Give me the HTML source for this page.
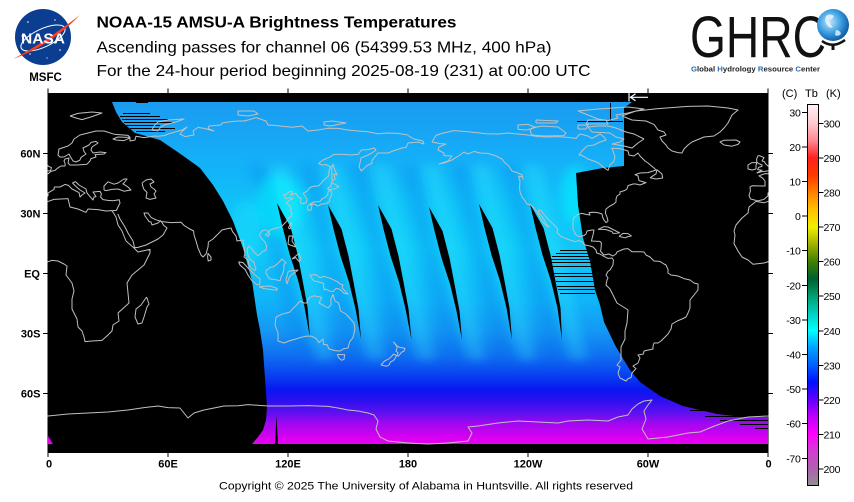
<!DOCTYPE html>
<html><head><meta charset="utf-8"><style>
html,body{margin:0;padding:0;background:#fff;}
svg{display:block;}
</style></head><body>
<svg width="854" height="502" viewBox="0 0 854 502" xmlns="http://www.w3.org/2000/svg" xmlns:xlink="http://www.w3.org/1999/xlink" font-family="'Liberation Sans', Arial, sans-serif">
<defs>
<linearGradient id="sg" gradientUnits="userSpaceOnUse" x1="0" y1="102" x2="0" y2="444">
<stop offset="0" stop-color="#1a9cf0"/>
<stop offset="0.08" stop-color="#18a4f4"/>
<stop offset="0.17" stop-color="#14b0f8"/>
<stop offset="0.29" stop-color="#10c0f8"/>
<stop offset="0.43" stop-color="#10c8f8"/>
<stop offset="0.58" stop-color="#10b4f8"/>
<stop offset="0.67" stop-color="#1498f4"/>
<stop offset="0.74" stop-color="#1070f0"/>
<stop offset="0.80" stop-color="#0840f0"/>
<stop offset="0.84" stop-color="#0818f0"/>
<stop offset="0.87" stop-color="#2810f0"/>
<stop offset="0.91" stop-color="#6010f0"/>
<stop offset="0.94" stop-color="#a008f0"/>
<stop offset="0.98" stop-color="#d800f0"/>
<stop offset="1" stop-color="#e800f0"/>
</linearGradient>
<linearGradient id="cb" x1="0" y1="0" x2="0" y2="1">
<stop offset="0" stop-color="#fff2f4"/>
<stop offset="0.05" stop-color="#ffc8d0"/>
<stop offset="0.095" stop-color="#ff8890"/>
<stop offset="0.14" stop-color="#ff2020"/>
<stop offset="0.186" stop-color="#ff3a00"/>
<stop offset="0.231" stop-color="#ff8000"/>
<stop offset="0.276" stop-color="#ffc000"/>
<stop offset="0.322" stop-color="#f0f000"/>
<stop offset="0.367" stop-color="#a0b000"/>
<stop offset="0.412" stop-color="#408000"/>
<stop offset="0.457" stop-color="#006030"/>
<stop offset="0.503" stop-color="#00a070"/>
<stop offset="0.548" stop-color="#00d0c0"/>
<stop offset="0.593" stop-color="#00ffff"/>
<stop offset="0.639" stop-color="#00a0ff"/>
<stop offset="0.684" stop-color="#0060ff"/>
<stop offset="0.729" stop-color="#0010ff"/>
<stop offset="0.774" stop-color="#6000ff"/>
<stop offset="0.82" stop-color="#c000ff"/>
<stop offset="0.865" stop-color="#ff00ff"/>
<stop offset="0.91" stop-color="#d040d0"/>
<stop offset="0.955" stop-color="#b060b0"/>
<stop offset="1" stop-color="#909090"/>
</linearGradient>
<radialGradient id="gl" cx="0.4" cy="0.4" r="0.6">
<stop offset="0" stop-color="#bfe6ff"/>
<stop offset="0.6" stop-color="#3a9ee0"/>
<stop offset="1" stop-color="#1560a8"/>
</radialGradient>
<clipPath id="mapc"><rect x="47.5" y="93" width="721" height="360"/></clipPath>
<clipPath id="swc"><path d="M112,102 L632,102 L624,108 L624,166 L603,168 L576,173 L578,205 L583,238 L590,261 L595,290 L600,305 L604,322 L615,345 L622,357 L630,370 L640,382 L660,396 L683,406 L717,414 L743,417 L768,416 L768,444 L252,444 L258,437 L263,430 L266,420 L267,407 L263,350 L260,330 L257,315 L252,281 L243,248 L233,221 L223,201 L213,185 L200,168 L182,155 L160,140 L135,133 L122,122 L116,112 Z"/></clipPath>
<filter id="bl" x="-30%" y="-30%" width="160%" height="160%"><feGaussianBlur stdDeviation="5"/></filter>
<g id="coast" fill="none" stroke="#c0c0c0" stroke-width="0.5" stroke-linejoin="round">
<polyline points="-17,21 -16,24 -13,27.5 -10,30 -9.5,33 -6,35.8 -2,35.1 3,36.8 10,37.2 11,33 15,32 19,30.3 20,32 25,31.7 29,31 32,31.2 34,28 35,24 37,21 39,16 43,12.5 45,10.5 51,11.8 51,10 48,4 42,-1 39.5,-5 40,-10 40.5,-15 35,-20 35.5,-24 32.5,-26 32,-29 30,-31 27,-33.7 22,-34 18.5,-34.3 18,-32 17,-29 15,-27 14.5,-23 12,-18 12,-13 13,-9 12,-5 9,-1 9.5,3.5 8,4.5 5,6 2,6.3 -2,5 -7.5,4.4 -10,6.5 -13,8 -15,11 -17,14.7 -16.5,19 -17,21"/>
<polyline points="49.3,-12 50.5,-15.5 49.5,-17 48,-22 47,-25 45,-25.5 43.5,-22 44,-18 46.5,-16 49.3,-12"/>
<polyline points="34.9,29.5 36,27 38.5,23 40,20 42.5,16 43.3,12.7 45,12.8 49,14 52,15.5 55,17 57.5,19 59.5,22.5 58,23.7 56.3,26.2 55,25 52,24 51.5,25.5 50.5,25.7 50,26.5 48.5,28.5 48,30 50,30 51.5,27.8 54,26.6 57,25.7 61.5,25.2 66.5,25.4 68,23.8 70,22.5 72.8,21 73,19 74,16 75,12.5 76.5,9 77.5,8 79,9.5 80,13 80.2,15.5 82.5,17 85,19.5 87,21.5 89,22 91.5,22.5 92.3,20.6 94,18.5 94.5,16 97.5,16.5 98,13 98.5,10 98,8 100,6.5 100.5,4 101.5,2.5 103.5,1.3 104,2 103.3,4 103,5.5 101,6.8 100,9 99.5,12 100.5,13.5 102,12 103,10.5 105,8.6 106,9.5 107,10.5 109,11.5 109.3,13.5 108.5,15.5 106.5,17.5 105.7,19 107,21 108.5,21.6 110,21 110.5,20.3 111,21.5 113.5,22.3 116.5,23 119,25.5 120,27 121.7,28.5 122,30 121,31 121.8,32 120.5,34 119.2,35 120.5,36.3 122.5,37.2 121,37.7 119,37.2 118,38.5 117.6,39 119,39.4 121,40.8 122.3,40.5 121.2,39 122,39.2 124,39.8 125.3,37.7 126.5,37.5 126.3,35 127.5,34.7 129.3,35.2 129.5,36.8 128.5,38.5 127.5,39.8 129.7,41 130.7,42.5 132,43.2 135.5,43.7 138,46.5 140.3,48.5 140.5,51 141.3,53 139,54.2 137,54 135.3,54.8 137.5,56.5 140.5,57.8 143,59.3 148,59.3 151,59 155,59.3 156.7,61.5 160,61.7 163,62.5 164,61.5 162,60 160,59 156.5,57.5 156,55 155.5,53 156.7,51 158.5,52.8 160,54 162,54.8 162,56.2 163.2,57.8 165,60 170,60 172.5,61 177,62.5 179,62.8 180,65"/>
<polyline points="-180,65 -175,65.5 -172,64.5 -172.5,66 -177,67 -180,68.8"/>
<polyline points="180,69 175,69.8 170,70 165,69.6 160,70.6 155,71 150,71.5 145,72.3 140,72.4 135,71.5 130,71 127,73.5 122,72.9 115,73.6 113,73.8 110,74 109,76 104,77.7 100,76.5 98,76 95,76 90,75.5 87,75 86.5,74 80.5,73.5 80,72.3 83,71 78,72.3 75,72.8 72.5,71 73,69 68.5,68.2 66,69.5 67,70.8 68.5,72 69.5,73 67,71.5 61,69.8 58,68.7 55,68.4 53.5,68.5 48,67.7 44,68.4 43.5,66.5 41,66 41,67.5 38,66.2 34,66.5 32.5,67 35,68 41,67.8 40,68.8 33,69.4 28,71 24,71 20,70 16,69 13,67 12,65 10,63.5 5.5,62 5,59 6,58 8,58 10.5,59.5 11,58.5 12.5,56 14,55.5 16,56.5 16.5,57.8 19,59.5 18,60.8 17.5,62.5 20.5,64 21.5,65.3 24,65.8 25,65 22,63 21.5,61.5 22.5,60 26,60.5 29,60.2 28,59.5 23.5,59.2 24,58 21.5,57.2 21,56 19.5,54.4 14.5,54 11,54 10,55 10.5,57.5 8.5,57 8,56 8.6,54.5 8.5,53.5 6.5,53.5 4.5,52.2 3.5,51.3 1.6,50.9 0,49.6 -1.5,49.7 -4.5,48.6 -2.5,47.3 -1.5,46 -1.5,43.5 -8,43.6 -9,43 -8.8,41 -9.5,38.8 -8.7,37 -6,36.3 -5.4,36 -2,36.8 0,38.6 0,40 3,41.8 3.2,43 6,43 8.5,44.3 10.2,43.8 12,42 15.5,40.2 16,38 17,39 18.5,40 16,41.5 13.5,43.7 12.3,45 13.7,45.7 15.5,44 19,42 19.5,40 21,38.2 22.5,36.5 23,38 24,38.2 22.5,40.5 26,40.8 26.7,39.5 26.3,38 27.5,36.7 30,36.3 32.5,36.1 35.6,36.6 36,35 35,33 34.2,31.3 32.3,31.2"/>
<polyline points="28,41.5 28,43.5 30,45.6 33,44.4 35,45 38,47 39.5,47 38,45 37.5,44.6 40,43 41.5,41.5 38,40.9 35,42 32,41.8 29,41.2 28,41.5"/>
<polyline points="47,45 49,46.5 51.5,47 53,45.5 51,44.5 51.5,43 53,42 54,41 53,39.5 54,37.5 51,36.8 49,37.5 49.5,40.3 48,41.8 47.5,43 47,45"/>
<polyline points="-5.7,50 -3,50.7 1.3,51.2 1.7,52.7 0,53.5 -1.3,54.7 -1.8,55.7 -3,56 -2,57.7 -4,58.6 -5,58.6 -5.7,57 -5.6,55.4 -4.8,54.8 -3,54 -3,53.3 -4.7,52.8 -5.2,51.7 -3,51.4 -5.7,50"/>
<polyline points="-6,52 -6,53.9 -5.5,55.2 -8,55.2 -10,54 -10,52 -8,51.5 -6,52"/>
<polyline points="-22,64 -24,65.5 -22,66.4 -16,66.5 -14,65.5 -15,64.3 -18,63.4 -22,64"/>
<polyline points="11,78.5 15,79.8 22,80.5 27,80 22,78.2 17,76.7 14,77.5 11,78.5"/>
<polyline points="52,71.5 53,73.5 55,75.5 60,76.5 68,77 64,75.5 58,74 56,72.5 55,71 52,71.5"/>
<polyline points="95,79 100,78.5 105,79.5 103,81 95,81 95,79"/>
<polyline points="138,74 141,73.5 149,75 142,76 138,75.5 138,74"/>
<polyline points="79.8,8 80,9.8 81.5,8 81.5,6.5 80.1,6 79.8,8"/>
<polyline points="108.7,19 110,20.1 111,19.6 110,18.2 108.7,19"/>
<polyline points="130,31.3 131.5,31.5 132,33.8 131,34 133,34.5 135,33.5 136.8,34.5 139,34.7 140.8,35.7 140.8,37 141.5,38.3 142,39.8 141.4,41.4 140,40.5 139.8,39 138.5,37.8 137,37 136,35.8 133,35.5 131,34.5 129.7,33.3 130,31.3"/>
<polyline points="140,41.5 141.2,41.8 143.3,42 145.5,43.3 144,44 141.8,45.4 141.5,43.3 140,42.5 140,41.5"/>
<polyline points="142,46 143.5,46.8 143,49.5 144.5,49 143,52.5 142.5,54.3 142,53.5 141.8,51 142,49 142,46"/>
<polyline points="120.2,22.5 121.5,25.2 121.9,24.7 121,22 120.2,22.5"/>
<polyline points="120,14.5 120.5,18.5 122.3,18.5 122,16 124,13 121.5,13.8 120,14.5"/>
<polyline points="122,7 125.5,9.8 126.5,7 125.5,5.8 123.8,7.7 122,7"/>
<polyline points="109,1.5 110,1.7 111,2.8 113,3.2 115.5,5.3 117,7 119,5 118,4.3 118,2 117.5,0 116.5,-2 116,-3.9 114.5,-3.5 113,-3.2 111,-3 110,-2 109,0 109,1.5"/>
<polyline points="95.3,5.6 97.5,5.2 100,2.5 103.5,-1 106,-3 105.8,-5.8 104.5,-5.8 102,-4 100,-1 98.6,1.7 96,4 95.3,5.6"/>
<polyline points="105.5,-6.8 108,-6.6 111,-6.5 114.5,-7.7 114.5,-8.6 111,-8.2 108,-7.8 105.5,-6.8"/>
<polyline points="119.5,-5.5 120.5,-2.5 121.5,-1 124.5,1 125,1.5 121,1 120,0.5 119.7,-0.8 119,-3.5 119.5,-5.5"/>
<polyline points="131,-1 134,-0.8 136,-2.3 138,-1.7 141,-2.6 145,-4.5 146,-5.5 147.5,-6 147,-7.5 150,-10.5 148,-10.2 146,-8.2 144,-7.7 142.5,-9.3 141,-9.1 139,-8.1 138,-8.3 137.7,-5.2 135,-4.3 133,-4 132,-2.8 131,-1"/>
<polyline points="114,-22 113.5,-26 115,-30 115,-34 118,-35 121,-33.8 124,-33 126,-32.3 129,-31.6 131.5,-31.5 134,-32.7 135.5,-34.8 137.5,-33 137.8,-35.8 139.5,-35.8 140.5,-38 143.5,-38.8 146,-39 148,-37.8 150,-37.5 150.8,-34.5 152.5,-32.3 153.5,-28 153,-25 150.8,-22.5 149,-20.5 146.3,-19 145.3,-15 143.5,-14 142.5,-10.7 141.5,-13 141.5,-16 140,-17.5 137,-15.8 135.5,-15 136.8,-12.2 133,-11.4 131,-12.1 130,-13.2 129.5,-15 128,-15 126,-14 124,-16.3 122.2,-18 121,-19.5 117,-20.6 114,-22"/>
<polyline points="144.6,-40.7 148.3,-40.9 148,-43.2 146.8,-43.6 145.3,-42.3 144.6,-40.7"/>
<polyline points="172.7,-34.4 174.5,-36.5 175.9,-37.2 178.5,-37.7 177.9,-39.2 176.9,-39.5 175.2,-41.6 174.6,-41.2 175,-39.8 174,-39.2 174.6,-37 172.7,-34.4"/>
<polyline points="172.7,-40.5 174.3,-41.3 173.3,-43 172.7,-43.8 171.2,-44.5 170.6,-45.9 169.3,-46.6 166.5,-46 168.3,-44 170.5,-42.9 172,-41.5 172.7,-40.5"/>
<polyline points="-168,65.5 -166,68.8 -163,69.8 -157,71.2 -152,70.8 -145,70.1 -141,69.6 -135,69.5 -130,70 -125,69.5 -120,69 -115,68.2 -110,68 -105,68.2 -100,67.8 -96,67.3 -95,68.5 -94,69.5 -90,68.5 -88,67.3 -84,69.5 -82,68 -81,66.5 -84,65.5 -87,64 -90.5,63.5 -93,61 -94.5,59 -93,58.8 -90,57 -85,55.2 -82.3,52.9 -80,51.3 -79,54 -77,56 -76.5,58 -78,62.4 -74,62.2 -70,61 -69.5,59 -67,58.5 -65,60 -64,58.5 -61.5,56 -60,55 -57,52.5 -56,51.5 -60,50.2 -64,50 -66.5,49.2 -65,48.5 -64.5,46.2 -61,45.2 -64,44 -66,44.5 -67.5,44.5 -70,43.7 -70.5,42 -71.5,41.3 -74,40.5 -74,39.5 -75.5,38.5 -76,37 -76,35.5 -77,34.6 -79,33.5 -81,32 -81.3,30 -80.5,28 -80,26 -81,25.2 -82,26.5 -82.7,28 -83,29.5 -84.5,30 -86,30.3 -88,30.4 -89.5,30.2 -89,29 -91,29.3 -93,29.8 -95,29.3 -97,27.8 -97.5,26 -97.5,22 -96,19 -94.5,18.2 -92,18.7 -91,19.5 -90.5,21 -88,21.5 -87,21.5 -87.5,19 -88.3,16 -86,15.9 -84,15.8 -83.3,15 -83.5,12 -83.8,11 -82,9 -79.5,9.5 -77.5,8.5 -76,9.5 -75.5,10.5 -74,11.2 -72,12 -70,12.2 -68,10.6 -64,10.6 -62,10.5 -61,9 -59,8 -57,6 -54,5.8 -52,4.5 -51,4 -50,1.8 -50,0 -48.5,-1 -45,-1.5 -42,-2.8 -39,-3.5 -37,-5 -35,-5.5 -35,-8.5 -37,-11 -39,-13.5 -39,-17.5 -40,-20 -41,-22 -43,-23 -45,-23.8 -48,-25.5 -48.5,-28 -50,-30.5 -52,-32.5 -53.5,-34 -55,-35 -57,-35 -57.5,-36.5 -57.5,-38 -62,-39 -62.3,-40.5 -65,-41 -64,-42.5 -65,-45 -67.5,-46.5 -66,-47.8 -68,-50 -68.5,-52.3 -70,-52.8 -71,-54 -74,-52.5 -75,-50 -74,-47 -75.5,-46 -73.5,-43.5 -73.5,-41 -73.5,-37 -71.5,-33 -71.5,-29 -70.5,-25 -70,-18.5 -71.5,-17.5 -75.5,-15 -77,-12 -79,-8 -81,-6 -80.5,-3.5 -80,-2.5 -81,-1 -80,0.8 -79,1.5 -77.5,4 -77.3,6.5 -78,7.5 -80,7.3 -82,8.3 -84,9.5 -85.7,10 -86,11.5 -87.5,13 -89,13.5 -91.5,14 -93,15.6 -94.5,16.2 -96.5,15.7 -98.5,16.3 -101,17.2 -103.5,18.3 -105.5,20.2 -105.2,21.8 -106,23 -108,25 -109.5,26.5 -111,28 -112.5,29.9 -113.5,31.3 -114.8,31.5 -114.5,30 -112.5,27.5 -110.5,24 -109.5,23 -110,23 -112,24.8 -114,27.5 -115,29.8 -117,32.5 -118.5,34 -120.5,34.5 -122,36.8 -123,38 -124,40.5 -124.2,43 -124,46 -124.7,48.4 -123,48.2 -122.5,47 -123,49 -125,50 -128,51 -130,54 -131.5,55 -133,57 -136,58.5 -140,59.8 -144,60 -147,60.8 -150,59.5 -152,60.5 -154,59 -156,57.8 -158,56.5 -162,55 -164.5,54.5 -160,56 -158,58.5 -162,58.7 -162,60 -165,61.5 -164.5,63 -161,64.5 -164,64.7 -168,65.5"/>
<polyline points="-59,47.6 -56,49.6 -55.5,51.6 -53,49.5 -52.7,47.5 -56,47 -59,47.6"/>
<polyline points="-85,21.8 -82,23.2 -80,23 -77,21.5 -74.2,20.1 -75.5,19.9 -77.5,19.8 -78,20.7 -81,21.7 -84,21.9 -85,21.8"/>
<polyline points="-74.5,18.3 -72.5,19.8 -70,19.7 -68.3,18.5 -70,18.2 -71.5,17.6 -74.5,18.3"/>
<polyline points="-73,78.5 -66,81 -55,82.2 -40,83.3 -30,83.5 -20,82.5 -15,81.5 -18,79 -19,77 -20,75 -22,72.5 -24,70.5 -27,68.5 -32,68 -38,65.5 -40,64 -42,62 -43,60 -45,60.2 -48,61 -50,62.5 -51,64 -53,66 -54,68 -51,69 -52,70.5 -55,71.5 -57,74.3 -61,76 -68,76.5 -73,78.5"/>
<polyline points="-62,67 -65,65 -68,62.5 -72,63.5 -78,64.5 -74,65.5 -72,67 -76,68 -79,70 -85,70.3 -88,70.5 -90,73 -85,73.5 -80,73.5 -76,72.5 -71,70.5 -67,69.5 -62,67"/>
<polyline points="-118,69 -112,68.5 -102,68.7 -101,70 -105,73 -113,73.5 -118,72.5 -119,71 -118,69"/>
<polyline points="-80,76.2 -75,77.5 -76,79 -70,80 -62,82 -70,83 -85,82 -95,81 -90,79 -85,77 -80,76.2"/>
<polyline points="-125,71.8 -121,71.5 -116,72.8 -120,74.3 -125,74 -125,71.8"/>
<polyline points="-95,72 -91,72 -90,74 -95,74 -95,72"/>
<polyline points="-91,74.5 -80,74.5 -81,76.5 -90,76.5 -91,74.5"/>
<polyline points="-116,75 -106,75 -105,76 -116,76.5 -116,75"/>
<polyline points="-180,-85 -170,-85.5 -160,-85 -150,-84 -148,-80 -150,-77 -145,-76.5 -135,-75 -125,-74 -115,-74.5 -105,-75 -100,-74 -90,-73.5 -80,-74 -75,-72 -70,-71 -68,-68 -65,-65.5 -62,-64 -58,-63.5 -60,-66 -62,-69 -61,-73 -63,-78 -60,-83 -50,-82 -40,-80 -34,-79.5 -28,-77 -20,-74 -10,-72 0,-71.5 10,-70.5 20,-70 30,-69.5 40,-68.5 48,-67.3 55,-66.5 60,-67.3 66,-67.5 68,-70 70,-72.5 73,-70 78,-68.5 88,-66.5 95,-66.4 100,-65.8 110,-66.5 120,-66.5 130,-66.3 140,-66.7 145,-67.5 150,-68.5 155,-69 160,-70 163,-71 165,-74 164,-78 166,-82 170,-84 180,-85"/>
</g>
</defs>

<rect width="854" height="502" fill="#fff"/>

<!-- NASA logo -->
<circle cx="43" cy="37" r="28" fill="#0b3d91"/>
<g fill="#fff">
<circle cx="28" cy="22" r="0.8"/><circle cx="55" cy="20" r="0.7"/><circle cx="60" cy="50" r="0.8"/><circle cx="30" cy="54" r="0.7"/><circle cx="22" cy="36" r="0.6"/><circle cx="47" cy="58" r="0.6"/>
</g>
<ellipse cx="43" cy="38" rx="24" ry="9" fill="none" stroke="#fff" stroke-width="1" transform="rotate(-25 43 38)"/>
<path d="M13,59 Q42,44 80,15 Q50,46 13,59 Z" fill="#fc3d21"/>
<text x="43" y="43.5" text-anchor="middle" font-size="15" font-weight="bold" fill="#fff" textLength="44" lengthAdjust="spacingAndGlyphs">NASA</text>
<text x="45.5" y="81" text-anchor="middle" font-size="11.5" font-weight="bold" fill="#000">MSFC</text>

<!-- Title -->
<text x="96.5" y="27.3" font-size="16" font-weight="bold" fill="#000" textLength="360" lengthAdjust="spacingAndGlyphs">NOAA-15 AMSU-A Brightness Temperatures</text>
<text x="96.5" y="52.3" font-size="16" fill="#000" textLength="455" lengthAdjust="spacingAndGlyphs">Ascending passes for channel 06 (54399.53 MHz, 400 hPa)</text>
<text x="96.5" y="76" font-size="16" fill="#000" textLength="494" lengthAdjust="spacingAndGlyphs">For the 24-hour period beginning 2025-08-19 (231) at 00:00 UTC</text>

<!-- GHRC logo -->
<text x="690" y="57" font-size="58" fill="#111" textLength="136" lengthAdjust="spacingAndGlyphs">GHRC</text>
<circle cx="833" cy="25" r="16" fill="url(#gl)"/>
<path d="M826,16 q4,-3 8,0 q-2,4 -5,4 q1,5 4,7 q-3,2 -6,-2 q-3,-4 -1,-9z" fill="#e8f4ff" opacity="0.85"/>
<path d="M836,30 q4,0 5,4 q-3,3 -6,1z" fill="#e8f4ff" opacity="0.8"/>
<path d="M822,41 Q833,49 845,40" fill="none" stroke="#111" stroke-width="2.5"/>
<rect x="831.5" y="44" width="3" height="6" fill="#111"/>
<text x="691" y="71.5" font-size="7.5" font-weight="bold" fill="#222" textLength="129" lengthAdjust="spacingAndGlyphs"><tspan fill="#2a6ab0">G</tspan>lobal <tspan fill="#2a6ab0">H</tspan>ydrology <tspan fill="#2a6ab0">R</tspan>esource <tspan fill="#2a6ab0">C</tspan>enter</text>

<!-- Map -->
<rect x="47.5" y="93" width="721" height="360" fill="#000"/>
<g clip-path="url(#mapc)">
 <g clip-path="url(#swc)">
  <rect x="100" y="100" width="670" height="346" fill="url(#sg)"/>
  <g filter="url(#bl)">
   <g fill="#30f4ff" opacity="0.28">
    <polygon points="270,165 288,165 335,360 317,360"/>
    <polygon points="321,165 339,165 386,360 368,360"/>
    <polygon points="371,165 389,165 436,360 418,360"/>
    <polygon points="422,165 440,165 486,360 468,360"/>
    <polygon points="472,165 490,165 537,360 519,360"/>
    <polygon points="523,165 541,165 588,360 570,360"/>
   </g>
   <g fill="#1070e8" opacity="0.22">
    <polygon points="248,165 266,165 313,360 295,360"/>
    <polygon points="299,165 317,165 364,360 346,360"/>
    <polygon points="349,165 367,165 414,360 396,360"/>
    <polygon points="400,165 418,165 464,360 446,360"/>
    <polygon points="450,165 468,165 515,360 497,360"/>
    <polygon points="501,165 519,165 566,360 548,360"/>
   </g>
   <ellipse cx="280" cy="205" rx="25" ry="30" fill="#00ffff" opacity="0.45"/>
   <ellipse cx="245" cy="235" rx="15" ry="35" fill="#10e8ff" opacity="0.35"/>
   <ellipse cx="575" cy="195" rx="14" ry="30" fill="#00ffff" opacity="0.45"/>
  </g>
 </g>
 <g fill="#000">
  <path transform="translate(277,203)" d="M0,0 L13.5,24 L20.5,51 L25.5,77 L30.5,104 L33,135 L27.5,104 L21,77 L12.5,51 L5.5,24 Z"/>
  <path transform="translate(328,205)" d="M0,0 L13.5,24 L20.5,51 L25.5,77 L30.5,104 L33,134 L27.5,104 L21,77 L12.5,51 L5.5,24 Z"/>
  <path transform="translate(378,205)" d="M0,0 L13.5,24 L20.5,51 L25.5,77 L30.5,104 L33.5,135 L27.5,104 L21,77 L12.5,51 L5.5,24 Z"/>
  <path transform="translate(429,207)" d="M0,0 L13.5,24 L20.5,51 L25.5,77 L30.5,104 L33,133 L27.5,104 L21,77 L12.5,51 L5.5,24 Z"/>
  <path transform="translate(479,204)" d="M0,0 L13.5,24 L20.5,51 L25.5,77 L30.5,104 L33,136 L27.5,104 L21,77 L12.5,51 L5.5,24 Z"/>
  <path transform="translate(530,204)" d="M0,0 L13.5,24 L20.5,51 L25.5,77 L30.5,104 L32,136 L27.5,104 L21,77 L12.5,51 L5.5,24 Z"/>
  <polygon points="275,444 276.5,415 278,444"/>
 </g>
 <g stroke="#000" stroke-width="1">
  <line x1="560" y1="250.5" x2="588" y2="250.5"/>
  <line x1="556" y1="253.5" x2="590" y2="253.5"/>
  <line x1="552" y1="256.5" x2="590" y2="256.5"/>
  <line x1="550" y1="259.5" x2="592" y2="259.5"/>
  <line x1="549" y1="262.5" x2="592" y2="262.5"/>
  <line x1="552" y1="266.5" x2="593" y2="266.5"/>
  <line x1="553" y1="273.5" x2="594" y2="273.5"/>
  <line x1="555" y1="276.5" x2="594" y2="276.5"/>
  <line x1="556" y1="281.5" x2="595" y2="281.5"/>
  <line x1="557" y1="286.5" x2="595" y2="286.5"/>
  <line x1="558" y1="289.5" x2="595" y2="289.5"/>
  <line x1="560" y1="293.5" x2="595" y2="293.5"/>
  <line x1="123" y1="113.5" x2="150" y2="113.5"/>
  <line x1="120" y1="116.5" x2="160" y2="116.5"/>
  <line x1="122" y1="119.5" x2="168" y2="119.5"/>
  <line x1="124" y1="122.5" x2="172" y2="122.5"/>
  <line x1="126" y1="125.5" x2="160" y2="125.5"/>
  <line x1="130" y1="128.5" x2="175" y2="128.5"/>
  <line x1="136" y1="131.5" x2="165" y2="131.5"/>
  <line x1="136" y1="102.5" x2="148" y2="102.5"/>
  <line x1="610.5" y1="103" x2="610.5" y2="121"/>
  <line x1="577" y1="121.5" x2="623" y2="121.5"/>
  <line x1="690" y1="410.5" x2="720" y2="410.5"/>
  <line x1="705" y1="416.5" x2="768" y2="416.5"/>
  <line x1="720" y1="420.5" x2="768" y2="420.5"/>
  <line x1="740" y1="424.5" x2="768" y2="424.5"/>
  <line x1="755" y1="428.5" x2="768" y2="428.5"/>
 </g>
 <polygon points="48,436 53,444 48,444" fill="#e800f0"/>
 <g transform="translate(48,273) scale(2,-2)">
  <use xlink:href="#coast" href="#coast"/>
  <use xlink:href="#coast" href="#coast" x="360"/>
 </g>
 <g stroke="#fff" stroke-width="1.2" fill="none">
  <line x1="629" y1="93" x2="629" y2="101.5"/>
  <line x1="630" y1="97.3" x2="648" y2="97.3"/>
  <polyline points="635.5,93.8 630.5,97.3 635.5,100.8"/>
 </g>
</g>

<g stroke="#000" stroke-width="1">
 <line x1="48" y1="88.5" x2="48" y2="93"/><line x1="168" y1="88.5" x2="168" y2="93"/><line x1="288" y1="88.5" x2="288" y2="93"/><line x1="408" y1="88.5" x2="408" y2="93"/><line x1="528" y1="88.5" x2="528" y2="93"/><line x1="648" y1="88.5" x2="648" y2="93"/><line x1="768" y1="88.5" x2="768" y2="93"/>
 <line x1="48" y1="453" x2="48" y2="457"/><line x1="168" y1="453" x2="168" y2="457"/><line x1="288" y1="453" x2="288" y2="457"/><line x1="408" y1="453" x2="408" y2="457"/><line x1="528" y1="453" x2="528" y2="457"/><line x1="648" y1="453" x2="648" y2="457"/><line x1="768" y1="453" x2="768" y2="457"/>
 <line x1="43" y1="153.5" x2="47.5" y2="153.5"/><line x1="43" y1="213.5" x2="47.5" y2="213.5"/><line x1="43" y1="273.5" x2="47.5" y2="273.5"/><line x1="43" y1="333.5" x2="47.5" y2="333.5"/><line x1="43" y1="393.5" x2="47.5" y2="393.5"/>
 <line x1="768.5" y1="153.5" x2="773" y2="153.5"/><line x1="768.5" y1="213.5" x2="773" y2="213.5"/><line x1="768.5" y1="273.5" x2="773" y2="273.5"/><line x1="768.5" y1="333.5" x2="773" y2="333.5"/><line x1="768.5" y1="393.5" x2="773" y2="393.5"/>
</g>
<g font-size="11" font-weight="bold" fill="#000" text-anchor="end">
 <text x="40.5" y="157.5">60N</text>
 <text x="40.5" y="217.5">30N</text>
 <text x="40" y="277.5">EQ</text>
 <text x="40.5" y="337.5">30S</text>
 <text x="40.5" y="397.5">60S</text>
</g>
<g font-size="11" font-weight="bold" fill="#000" text-anchor="middle">
 <text x="49" y="467.5">0</text>
 <text x="168" y="467.5">60E</text>
 <text x="288" y="467.5">120E</text>
 <text x="408" y="467.5">180</text>
 <text x="528" y="467.5">120W</text>
 <text x="648" y="467.5">60W</text>
 <text x="768.5" y="467.5">0</text>
</g>
<text x="219" y="489.5" font-size="11" fill="#000" textLength="414" lengthAdjust="spacingAndGlyphs">Copyright © 2025 The University of Alabama in Huntsville.  All rights reserved</text>

<g font-size="11" fill="#000">
 <text x="782" y="97">(C)</text>
 <text x="805" y="97">Tb</text>
 <text x="826" y="97">(K)</text>
</g>
<rect x="807.5" y="104.5" width="11" height="381" fill="url(#cb)" stroke="#000" stroke-width="1"/>
<g stroke="#000" stroke-width="1">
 <line x1="802" y1="112.5" x2="807.5" y2="112.5"/><line x1="802" y1="147" x2="807.5" y2="147"/><line x1="802" y1="181.5" x2="807.5" y2="181.5"/><line x1="802" y1="216" x2="807.5" y2="216"/><line x1="802" y1="250.5" x2="807.5" y2="250.5"/><line x1="802" y1="285.5" x2="807.5" y2="285.5"/><line x1="802" y1="320" x2="807.5" y2="320"/><line x1="802" y1="354.5" x2="807.5" y2="354.5"/><line x1="802" y1="389" x2="807.5" y2="389"/><line x1="802" y1="423.5" x2="807.5" y2="423.5"/><line x1="802" y1="458.5" x2="807.5" y2="458.5"/>
 <line x1="818.5" y1="123.5" x2="823.5" y2="123.5"/><line x1="818.5" y1="158" x2="823.5" y2="158"/><line x1="818.5" y1="192.5" x2="823.5" y2="192.5"/><line x1="818.5" y1="227" x2="823.5" y2="227"/><line x1="818.5" y1="261.5" x2="823.5" y2="261.5"/><line x1="818.5" y1="296" x2="823.5" y2="296"/><line x1="818.5" y1="331" x2="823.5" y2="331"/><line x1="818.5" y1="365.5" x2="823.5" y2="365.5"/><line x1="818.5" y1="400" x2="823.5" y2="400"/><line x1="818.5" y1="434.5" x2="823.5" y2="434.5"/><line x1="818.5" y1="469" x2="823.5" y2="469"/>
</g>
<g font-size="10.5" fill="#000" text-anchor="end" letter-spacing="-0.3">
 <text x="800.5" y="116.3">30</text>
 <text x="800.5" y="150.8">20</text>
 <text x="800.5" y="185.3">10</text>
 <text x="800.5" y="219.8">0</text>
 <text x="800.5" y="254.3">-10</text>
 <text x="800.5" y="289.3">-20</text>
 <text x="800.5" y="323.8">-30</text>
 <text x="800.5" y="358.3">-40</text>
 <text x="800.5" y="392.8">-50</text>
 <text x="800.5" y="427.3">-60</text>
 <text x="800.5" y="462.3">-70</text>
</g>
<g font-size="10.5" fill="#000" letter-spacing="-0.3">
 <text x="823.5" y="127.3">300</text>
 <text x="823.5" y="161.8">290</text>
 <text x="823.5" y="196.3">280</text>
 <text x="823.5" y="230.8">270</text>
 <text x="823.5" y="265.3">260</text>
 <text x="823.5" y="299.8">250</text>
 <text x="823.5" y="334.8">240</text>
 <text x="823.5" y="369.3">230</text>
 <text x="823.5" y="403.8">220</text>
 <text x="823.5" y="438.3">210</text>
 <text x="823.5" y="472.8">200</text>
</g>
</svg>
</body></html>
